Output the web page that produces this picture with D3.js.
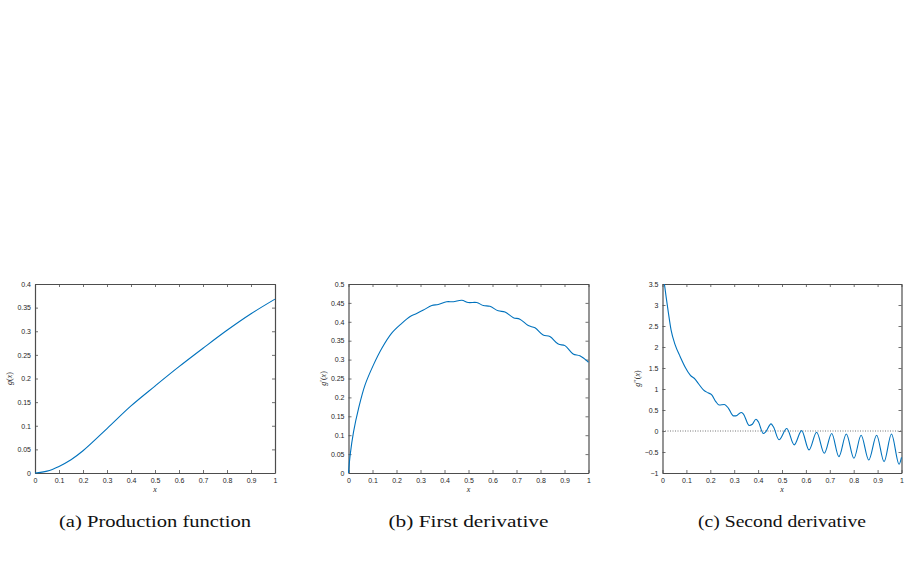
<!DOCTYPE html>
<html>
<head>
<meta charset="utf-8">
<script src="https://cdn.jsdelivr.net/npm/d3@7"></script>
<style>
  body { margin: 0; background: #fff; }
  .tick text { font-family: Helvetica, Arial, "Liberation Sans", sans-serif; font-size: 7px; fill: #262626; }
  .lbl { font-family: "Liberation Serif", "Times New Roman", Times, serif; font-size: 8px; fill: #262626; }
  .cap { font-family: "Liberation Serif", "Times New Roman", Times, serif; font-size: 17px; fill: #111; }
</style>
</head>
<body>
<script>
// x positions shared by all three panels
var xTicks = [0, 0.1, 0.2, 0.3, 0.4, 0.5, 0.6, 0.7, 0.8, 0.9, 1]

// (a) production function g(x)
var prodX = [0, 0.05, 0.1, 0.15, 0.2, 0.3, 0.4, 0.5, 0.6, 0.7, 0.8, 0.9, 1]
var prodY = [0, 0.004, 0.014, 0.028, 0.047, 0.094, 0.142, 0.184, 0.225, 0.264, 0.302, 0.337, 0.368]
var prodTicks = [0, 0.05, 0.1, 0.15, 0.2, 0.25, 0.3, 0.35, 0.4]

// (b) first derivative g'(x)
var d1X = [0, 0.007, 0.021, 0.042, 0.069, 0.104, 0.139, 0.18, 0.222, 0.257, 0.284, 0.312, 0.347, 0.374, 0.409, 0.437, 0.472, 0.499, 0.534, 0.562, 0.589, 0.624, 0.652, 0.687, 0.714, 0.749, 0.777, 0.811, 0.839, 0.874, 0.902, 0.936, 0.964, 1]
var d1Y = [0, 0.048, 0.109, 0.171, 0.233, 0.286, 0.33, 0.37, 0.396, 0.414, 0.422, 0.431, 0.443, 0.446, 0.453, 0.453, 0.457, 0.451, 0.451, 0.443, 0.441, 0.429, 0.426, 0.411, 0.407, 0.39, 0.384, 0.365, 0.361, 0.341, 0.337, 0.315, 0.31, 0.293]
var d1Ticks = [0, 0.05, 0.1, 0.15, 0.2, 0.25, 0.3, 0.35, 0.4, 0.45, 0.5]

// (c) second derivative g''(x)
var d2X = [0.008, 0.015, 0.025, 0.036, 0.053, 0.074, 0.095, 0.116, 0.137, 0.15, 0.171, 0.19, 0.206, 0.223, 0.237, 0.259, 0.276, 0.297, 0.307, 0.329, 0.338, 0.363, 0.376, 0.391, 0.401, 0.422, 0.432, 0.454, 0.464, 0.4875, 0.52, 0.551, 0.582, 0.613, 0.645, 0.677, 0.708, 0.738, 0.769, 0.801, 0.831, 0.863, 0.896, 0.927, 0.958, 0.99, 1]
var d2Y = [3.5, 3.2, 2.8, 2.4, 2.05, 1.77, 1.52, 1.33, 1.23, 1.13, 0.98, 0.91, 0.86, 0.7, 0.62, 0.63, 0.54, 0.36, 0.36, 0.44, 0.41, 0.13, 0.16, 0.28, 0.22, -0.06, -0.02, 0.17, 0.1, -0.21, 0.06, -0.33, 0.01, -0.45, -0.03, -0.53, -0.06, -0.61, -0.07, -0.65, -0.1, -0.69, -0.1, -0.73, -0.07, -0.79, -0.63]
var d2Ticks = [-1, -0.5, 0, 0.5, 1, 1.5, 2, 2.5, 3, 3.5]

var panels = [
  {xs: prodX, ys: prodY, yTicks: prodTicks, yDomain: [0, 0.4], left: 35, right: 275, prime: "", caption: "(a) Production function", capW: 192, curve: d3.curveCatmullRom, zero: false},
  {xs: d1X, ys: d1Y, yTicks: d1Ticks, yDomain: [0, 0.5], left: 348.5, right: 588.5, prime: "\u2032", caption: "(b) First derivative", capW: 160, curve: d3.curveCatmullRom, zero: false},
  {xs: d2X, ys: d2Y, yTicks: d2Ticks, yDomain: [-1, 3.5], left: 662.5, right: 901.5, prime: "\u2032\u2032", caption: "(c) Second derivative", capW: 168, curve: d3.curveMonotoneX, zero: true}
]

var plotTop = 284, plotBottom = 473
var axisColor = "#4d4d4d"
var lineColor = "#0072BD"

var svg = d3.select("body").append("svg").attr("width", 909).attr("height", 572)

var fmt = d3.format("~g")

panels.forEach(function(p) {
  var x = d3.scaleLinear().domain([0, 1]).range([p.left, p.right])
  var y = d3.scaleLinear().domain(p.yDomain).range([plotBottom, plotTop])
  var g = svg.append("g")

  // box + ticks on all four sides, inward
  var xb = g.append("g").attr("transform", "translate(0," + plotBottom + ")")
    .call(d3.axisBottom(x).tickValues(xTicks).tickSizeInner(-3).tickSizeOuter(0).tickPadding(5).tickFormat(fmt))
  var xt = g.append("g").attr("transform", "translate(0," + plotTop + ")")
    .call(d3.axisTop(x).tickValues(xTicks).tickSizeInner(-3).tickSizeOuter(0).tickFormat(""))
  var yl = g.append("g").attr("transform", "translate(" + p.left + ",0)")
    .call(d3.axisLeft(y).tickValues(p.yTicks).tickSizeInner(-3).tickSizeOuter(0).tickPadding(4).tickFormat(fmt))
  var yr = g.append("g").attr("transform", "translate(" + p.right + ",0)")
    .call(d3.axisRight(y).tickValues(p.yTicks).tickSizeInner(-3).tickSizeOuter(0).tickFormat(""))
  ;[xb, xt, yl, yr].forEach(function(a) {
    a.select(".domain").attr("stroke", axisColor).attr("stroke-width", 1.2)
    a.selectAll(".tick line").attr("stroke", axisColor).attr("stroke-width", 0.8)
  })

  if (p.zero) {
    g.append("line")
      .attr("x1", x(0)).attr("x2", x(1)).attr("y1", y(0)).attr("y2", y(0))
      .attr("stroke", "#666").attr("stroke-width", 0.9).attr("stroke-dasharray", "1,1.5")
  }

  var pts = p.xs.map(function(v, i) { return [v, p.ys[i]] })
  var line = d3.line().x(function(d) { return x(d[0]) }).y(function(d) { return y(d[1]) })
    .curve(p.curve)
  g.append("path").attr("d", line(pts)).attr("fill", "none")
    .attr("stroke", lineColor).attr("stroke-width", 1.1)

  // axis labels
  g.append("text").attr("class", "lbl")
    .attr("x", (p.left + p.right) / 2).attr("y", 492).attr("text-anchor", "middle")
    .style("font-style", "italic").text("x")
  var ylab = g.append("text").attr("class", "lbl")
    .attr("transform", "translate(" + (p.left - 23) + "," + ((plotTop + plotBottom) / 2) + ") rotate(-90)")
    .attr("text-anchor", "middle")
  ylab.append("tspan").style("font-style", "italic").text("g")
  ylab.append("tspan").text(p.prime + "(")
  ylab.append("tspan").style("font-style", "italic").text("x")
  ylab.append("tspan").text(")")

  // caption
  svg.append("text").attr("class", "cap")
    .attr("x", (p.left + p.right) / 2).attr("y", 527).attr("text-anchor", "middle")
    .attr("textLength", p.capW).attr("lengthAdjust", "spacingAndGlyphs")
    .text(p.caption)
})
</script>
</body>
</html>
